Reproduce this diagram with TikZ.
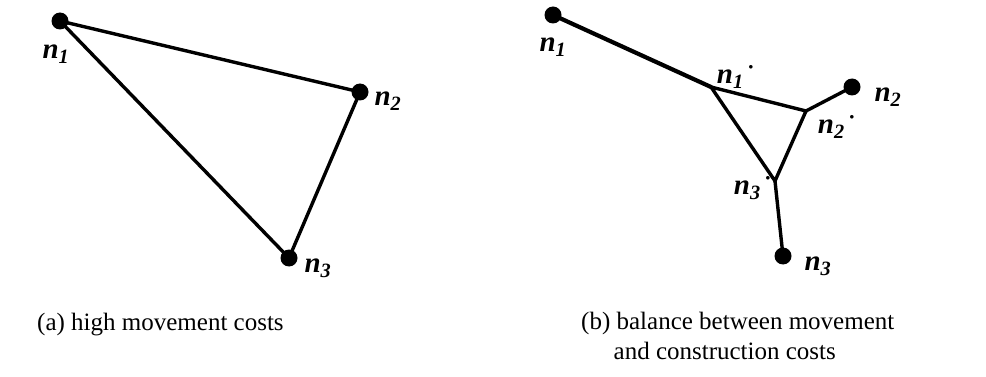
\documentclass[tikz,border=0pt]{standalone}
\usepackage{fontspec}
\setmainfont{Liberation Serif}
\begin{document}
\begin{tikzpicture}[x=1pt,y=-1pt,
  dot/.style={circle,fill=black,inner sep=0pt,minimum size=17pt},
  edge/.style={line width=3.4pt,line cap=round,line join=round},
  lab/.style={font=\fontsize{29}{30}\selectfont\bfseries\itshape,inner sep=0pt},
  captxt/.style={font=\fontsize{25}{30}\selectfont,inner sep=0pt,align=left}]
\newcommand{\pdot}{\,\raisebox{0.5em}{\fontsize{9}{9}\selectfont$\bullet$}}
\useasboundingbox (0,0) rectangle (986,377);
% (a)
\node[dot] (a1) at (60,21) {};
\node[dot] (a2) at (360,92) {};
\node[dot] (a3) at (289,258) {};
\draw[edge] (a1.center) -- (a2.center) -- (a3.center) -- cycle;
\node[lab] (la1) at (56,54) {n\textsubscript{1}};
\node[lab] (la2) at (388,101) {n\textsubscript{2}};
\node[lab] (la3) at (318,268) {n\textsubscript{3}};
% (b)
\node[dot] (b1) at (553,15) {};
\node[dot] (b2) at (852,87) {};
\node[dot] (b3) at (783,256) {};
\coordinate (p1) at (711,87);
\coordinate (p2) at (806,111);
\coordinate (p3) at (775,181);
\draw[edge,line width=4.2pt] (b1.center) -- (p1);
\draw[edge] (p1) -- (p2) -- (p3) -- cycle;
\draw[edge] (p2) -- (b2.center);
\draw[edge] (p3) -- (b3.center);
\node[lab] (lb1) at (553,47) {n\textsubscript{1}};
\node[lab] (lp1) at (735,77) {n\textsubscript{1}\pdot};
\node[lab] (lb2) at (888,97) {n\textsubscript{2}};
\node[lab] (lp2) at (836,127) {n\textsubscript{2}\pdot};
\node[lab] (lp3) at (752,188) {n\textsubscript{3}\pdot};
\node[lab] (lb3) at (818,266) {n\textsubscript{3}};
% captions
\node[captxt,anchor=west] (ca) at (37,325) {(a) high movement costs};
\node[captxt,anchor=north west] (cb) at (581,312) {(b) balance between movement\\\hspace*{1.3em}and construction costs};
\end{tikzpicture}
\end{document}
